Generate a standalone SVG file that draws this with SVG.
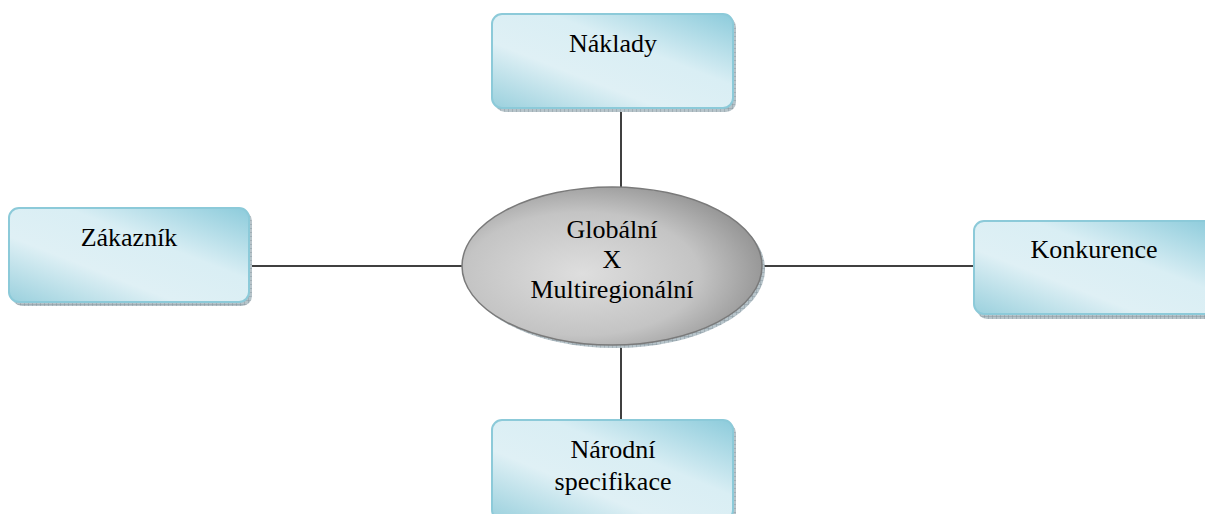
<svg xmlns="http://www.w3.org/2000/svg" width="1205" height="514" viewBox="0 0 1205 514">
<defs>
<linearGradient id="boxg" x1="0" y1="1" x2="1" y2="0">
<stop offset="0" stop-color="#9ad0dd"/>
<stop offset="0.35" stop-color="#dff0f5"/>
<stop offset="0.62" stop-color="#d9eef4"/>
<stop offset="1" stop-color="#8ccbdb"/>
</linearGradient>
<radialGradient id="ellg" cx="0.4" cy="0.55" r="0.65">
<stop offset="0" stop-color="#dedede"/>
<stop offset="0.6" stop-color="#c4c4c4"/>
<stop offset="1" stop-color="#8e8e8e"/>
</radialGradient>
<pattern id="hatch" width="4" height="4" patternUnits="userSpaceOnUse">
<rect width="4" height="4" fill="#b7c4ca"/>
<path d="M0 0H4M0 0V4" stroke="#7f8f99" stroke-width="0.8"/>
</pattern>
</defs>
<style>
.box{fill:url(#boxg);stroke:#8ccad9;stroke-width:2}
.shadow{fill:url(#hatch)}
.ell{fill:url(#ellg);stroke:#7a7a7a;stroke-width:1.5}
.t{font-family:"Liberation Serif","Times New Roman",serif;font-size:26px;fill:#000;text-anchor:middle}
.c{stroke:#000;stroke-width:1.5;fill:none}
</style>
<g id="connectors">
<line class="c" x1="621" y1="108" x2="621" y2="187"/>
<line class="c" x1="621" y1="345" x2="621" y2="421"/>
<line class="c" x1="250" y1="266" x2="463" y2="266"/>
<line class="c" x1="762" y1="266" x2="975" y2="266"/>
</g>
<g id="naklady">
<rect class="shadow" x="495" y="17" width="241" height="95" rx="10"/>
<rect class="box" x="492" y="14" width="241" height="94" rx="10"/>
<text class="t" x="613" y="52">Náklady</text>
</g>
<g id="zakaznik">
<rect class="shadow" x="12" y="211" width="240" height="95" rx="10"/>
<rect class="box" x="9" y="208" width="240" height="94" rx="10"/>
<text class="t" x="129" y="246">Zákazník</text>
</g>
<g id="konkurence">
<rect class="shadow" x="977" y="224" width="240" height="95" rx="10"/>
<rect class="box" x="974" y="221" width="240" height="93" rx="10"/>
<text class="t" x="1094" y="258">Konkurence</text>
</g>
<g id="narodni">
<rect class="shadow" x="495" y="423" width="241" height="100" rx="10"/>
<rect class="box" x="492" y="420" width="241" height="100" rx="10"/>
<text class="t" x="613" y="458">Národní</text>
<text class="t" x="613" y="490">specifikace</text>
</g>
<g id="center">
<ellipse class="shadow" cx="615" cy="269" rx="150" ry="79"/>
<ellipse class="ell" cx="612" cy="266" rx="150" ry="79"/>
<text class="t" x="612" y="238">Globální</text>
<text class="t" x="612" y="268">X</text>
<text class="t" x="612" y="298">Multiregionální</text>
</g>
</svg>
